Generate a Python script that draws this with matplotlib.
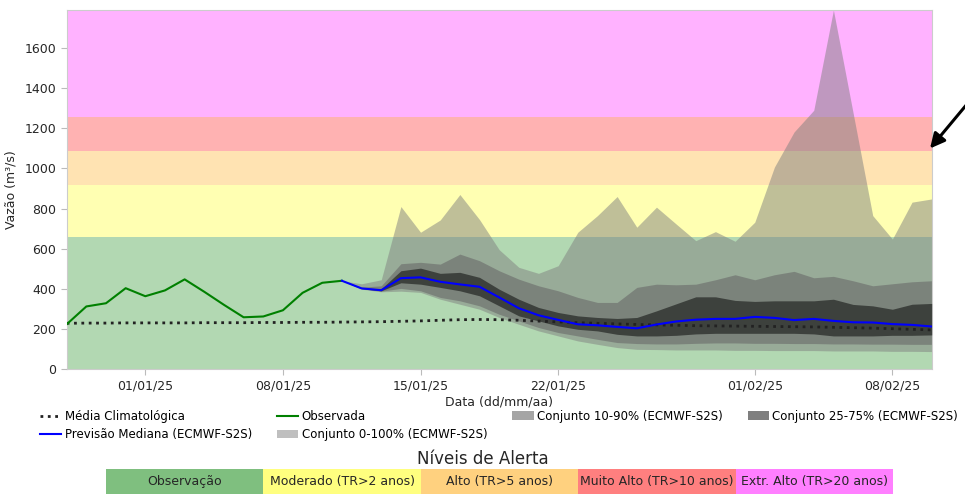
import numpy as np
import pandas as pd
import matplotlib
matplotlib.use('Agg')
import matplotlib.pyplot as plt
import matplotlib.dates as mdates
from matplotlib.patches import Patch
from matplotlib.lines import Line2D

# Séries diárias (m³/s)
datas_obs = pd.date_range('2024-12-28', '2025-01-11', freq='D')
observada = [223, 312, 328, 403, 363, 392, 447, 385, 320, 258, 262, 293, 380, 430, 440]

datas_prev = pd.date_range('2025-01-11', '2025-02-10', freq='D')
mediana = [440, 402, 393, 453, 457, 435, 422, 410, 357, 303, 268, 245, 223, 218, 210, 203,
           222, 237, 246, 250, 250, 260, 255, 244, 250, 240, 233, 232, 224, 220, 212]
p0 = [440, 398, 385, 388, 382, 348, 323, 298, 257, 223, 190, 165, 140, 123, 107, 98,
      97, 95, 95, 95, 93, 93, 92, 92, 92, 90, 90, 90, 88, 88, 87]
p10 = [440, 400, 388, 402, 390, 357, 340, 315, 273, 240, 207, 182, 165, 148, 132, 127,
       125, 125, 128, 130, 130, 128, 128, 127, 127, 125, 125, 124, 124, 123, 123]
p25 = [440, 401, 390, 430, 423, 407, 390, 365, 315, 265, 240, 215, 198, 190, 173, 165,
       165, 168, 175, 178, 178, 178, 178, 178, 175, 165, 165, 165, 168, 168, 170]
p75 = [440, 404, 400, 490, 503, 477, 482, 457, 398, 348, 307, 282, 265, 257, 252, 257,
       290, 325, 360, 360, 342, 337, 340, 340, 340, 348, 322, 315, 298, 323, 327]
p90 = [440, 408, 415, 525, 532, 523, 573, 540, 490, 448, 415, 390, 357, 332, 332, 407,
       423, 420, 423, 445, 470, 445, 470, 487, 455, 462, 440, 415, 425, 435, 440]
p100 = [440, 425, 445, 810, 682, 743, 870, 745, 595, 507, 477, 515, 682, 765, 860, 707,
        807, 723, 640, 685, 637, 732, 1007, 1182, 1290, 1790, 1278, 765, 648, 832, 848]

datas_clim = pd.date_range('2024-12-28', '2025-02-10', freq='D')
climatologia = [228, 229, 229, 230, 230, 230, 230, 231, 231, 231, 232, 232, 233, 233, 234,
                235, 236, 238, 240, 243, 246, 247, 246, 243, 239, 235, 231, 228, 225, 222,
                220, 218, 216, 215, 214, 213, 212, 211, 210, 208, 206, 204, 201, 198, 195]

# Limiares de alerta (m³/s)
limiares = [0, 658, 917, 1089, 1257]
cores_alerta = ['green', 'yellow', 'orange', 'red', 'magenta']
rotulos_alerta = ['Observação', 'Moderado (TR>2 anos)', 'Alto (TR>5 anos)',
                  'Muito Alto (TR>10 anos)', 'Extr. Alto (TR>20 anos)']

plt.rcParams['font.family'] = 'DejaVu Sans'
fig = plt.figure(figsize=(9.65, 4.95), dpi=100)
ax = fig.add_axes([0.0691, 0.2545, 0.8964, 0.7253])

ymax = max(p100)
topos = limiares[1:] + [ymax]
for base, topo, cor in zip(limiares, topos, cores_alerta):
    ax.axhspan(base, topo, color=cor, alpha=0.3, lw=0, zorder=0)

ax.fill_between(datas_prev, p0, p100, color='gray', alpha=0.5, lw=0, zorder=1)
ax.fill_between(datas_prev, p10, p90, color='dimgray', alpha=0.6, lw=0, zorder=2)
ax.fill_between(datas_prev, p25, p75, color='black', alpha=0.5, lw=0, zorder=3)

ax.plot(datas_clim, climatologia, ':', color='#222222', lw=2, zorder=4)
ax.plot(datas_obs, observada, color='green', lw=1.5, zorder=5)
ax.plot(datas_prev, mediana, color='blue', lw=1.5, zorder=5)

ax.set_xlim(datas_clim[0], datas_clim[-1])
ax.set_ylim(0, ymax)
ax.xaxis.set_major_locator(mdates.DayLocator(bymonthday=[1, 8, 15, 22]))
ax.xaxis.set_major_formatter(mdates.DateFormatter('%d/%m/%y'))
ax.tick_params(labelsize=9, colors='#bbbbbb', labelcolor='#262626', length=4, width=0.8)
for s in ax.spines.values():
    s.set_color('#cccccc')
    s.set_linewidth(0.8)
ax.set_xlabel('Data (dd/mm/aa)', fontsize=9, color='#262626', labelpad=2)
ax.set_ylabel('Vazão (m³/s)', fontsize=9, color='#262626', labelpad=5)

# Seta indicando o nível de alerta
ax.annotate('', xy=(0.996, limiares[3]), xycoords=('axes fraction', 'data'),
            xytext=(1.06, 1420), textcoords=('axes fraction', 'data'),
            arrowprops=dict(arrowstyle='-|>', color='black', lw=2.2, mutation_scale=22),
            annotation_clip=False)

handles = [
    Line2D([], [], ls=':', color='#222222', lw=2),
    Line2D([], [], color='blue', lw=1.5),
    Line2D([], [], color='green', lw=1.5),
    Patch(facecolor='gray', alpha=0.5),
    Patch(facecolor='dimgray', alpha=0.6),
    Patch(facecolor='black', alpha=0.5),
]
labels = ['Média Climatológica', 'Previsão Mediana (ECMWF-S2S)', 'Observada',
          'Conjunto 0-100% (ECMWF-S2S)', 'Conjunto 10-90% (ECMWF-S2S)',
          'Conjunto 25-75% (ECMWF-S2S)']
ax.legend(handles, labels, ncol=4, loc='upper center', bbox_to_anchor=(0.5, -0.1),
          frameon=False, fontsize=8.5, labelspacing=0.45, columnspacing=2.1,
          handlelength=1.8, handletextpad=0.3, borderaxespad=0)

# Tabela de níveis de alerta
fig.text(0.5, 1 - 459 / 495, 'Níveis de Alerta', ha='center', va='center',
         fontsize=12, color='#262626')
axt = fig.add_axes([0.1098, 0.003, 0.8155, 0.0495])
posicoes = np.arange(len(rotulos_alerta))
axt.barh(0, 1, left=posicoes, height=1, color=cores_alerta, alpha=0.5, align='edge')
for p, rot in zip(posicoes, rotulos_alerta):
    axt.text(p + 0.5, 0.5, rot, ha='center', va='center', fontsize=9, color='#262626')
axt.set_xlim(0, len(rotulos_alerta))
axt.set_ylim(0, 1)
axt.axis('off')

fig.savefig('out.png', dpi=100)
